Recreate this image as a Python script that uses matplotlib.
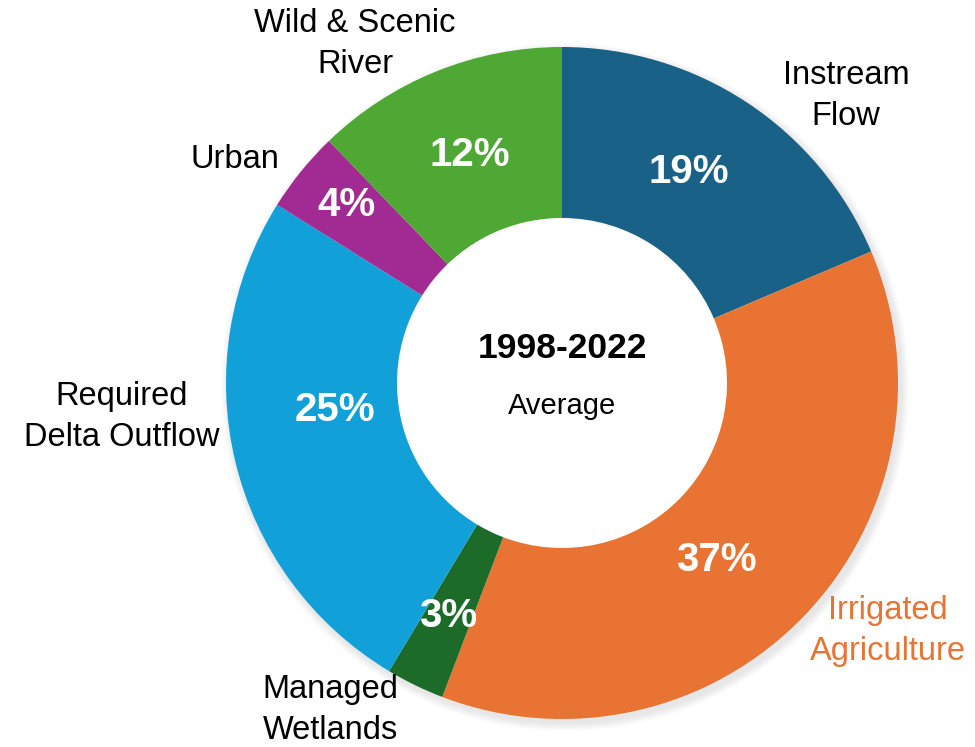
import matplotlib
matplotlib.use("Agg")
import matplotlib.pyplot as plt
from matplotlib.patches import Wedge

categories = ["Instream\nFlow", "Irrigated\nAgriculture", "Managed\nWetlands",
              "Required\nDelta Outflow", "Urban", "Wild & Scenic\nRiver"]
values = [18.6, 37.2, 2.8, 25.3, 3.9, 12.2]
pct_labels = ["19%", "37%", "3%", "25%", "4%", "12%"]
colors = ["#196186", "#E97333", "#1C6B28", "#11A0D8", "#A12B93", "#4EA833"]

W, H = 975, 747
fig = plt.figure(figsize=(W / 100, H / 100), dpi=100)
ax = fig.add_axes([0, 0, 1, 1])

cx, cy = 562, H - 383
R = 336
wedge_w = 171

# soft shadow (outer only)
for i in range(8):
    ax.add_patch(Wedge((cx + 3, cy - 4), R + 8 - i, 0, 360, width=60,
                       facecolor="black", alpha=0.012, linewidth=0))

wedges, _ = ax.pie(values, colors=colors, startangle=90, counterclock=False,
                   center=(cx, cy), radius=R, frame=True,
                   wedgeprops=dict(width=wedge_w, linewidth=0))
ax.set_xlim(0, W)
ax.set_ylim(0, H)
ax.set_aspect("equal")
ax.axis("off")

font = "Liberation Sans"
pct_pos = [(689, 172), (716, 560), (448, 616), (335, 410), (346, 205), (470, 155)]
for (px, py), t in zip(pct_pos, pct_labels):
    ax.text(px, H - py, t, ha="center", va="center", color="white",
            fontsize=29, fontweight="bold", family=font)

lab_pos = [(846, 96), (888, 631), (330, 710), (122, 417), (235, 160), (355, 44)]
lab_col = ["black", "#E97333", "black", "black", "black", "black"]
for (px, py), t, c in zip(lab_pos, categories, lab_col):
    ax.text(px, H - py, t, ha="center", va="center", color=c,
            fontsize=23.5, family=font, linespacing=1.45)

ax.text(cx, H - 349, "1998-2022", ha="center", va="center", fontsize=25.5,
        fontweight="bold", family=font)
ax.text(cx, H - 406, "Average", ha="center", va="center", fontsize=21,
        family=font)

fig.savefig("out.png", dpi=100, facecolor="white")
